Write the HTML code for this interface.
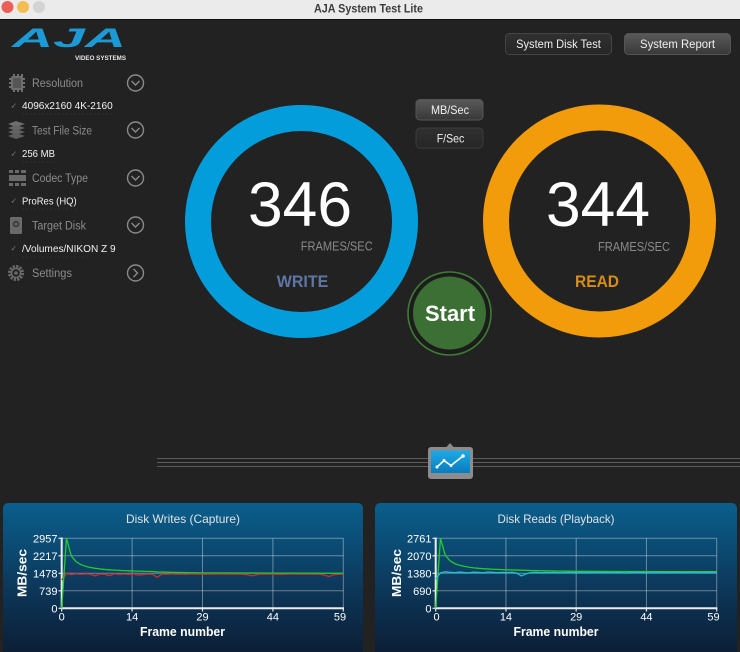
<!DOCTYPE html>
<html><head><meta charset="utf-8"><style>
html,body{margin:0;padding:0;background:#222;}
svg{display:block;}
text{font-family:"Liberation Sans",sans-serif;}
</style></head><body>
<svg width="740" height="652" viewBox="0 0 740 652" xmlns="http://www.w3.org/2000/svg">
<defs>
<linearGradient id="panel" x1="0" y1="0" x2="0" y2="1">
<stop offset="0" stop-color="#0a5f8d"/><stop offset="0.55" stop-color="#0c3658"/><stop offset="1" stop-color="#0c1a30"/>
</linearGradient>
<linearGradient id="btnL" x1="0" y1="0" x2="0" y2="1">
<stop offset="0" stop-color="#5a5a5a"/><stop offset="1" stop-color="#383838"/>
</linearGradient>
<linearGradient id="btnD" x1="0" y1="0" x2="0" y2="1">
<stop offset="0" stop-color="#303030"/><stop offset="1" stop-color="#262626"/>
</linearGradient>
<linearGradient id="ico" x1="0" y1="0" x2="0" y2="1">
<stop offset="0" stop-color="#1eaae6"/><stop offset="1" stop-color="#0a7cbd"/>
</linearGradient>
</defs>
<rect x="0" y="0" width="740" height="652" fill="#222"/>
<!-- title bar -->
<rect x="0" y="0" width="740" height="19" fill="#ebebeb"/>
<rect x="0" y="19" width="740" height="1" fill="#111"/>
<circle cx="7.5" cy="7" r="6" fill="#ed5f56"/>
<circle cx="23" cy="7" r="6" fill="#f3be4f"/>
<circle cx="39" cy="7" r="6" fill="#d3d3d3"/>
<text x="368.5" y="12.5" font-size="12" font-weight="bold" fill="#3c3c3c" text-anchor="middle" textLength="109" lengthAdjust="spacingAndGlyphs">AJA System Test Lite</text>

<!-- logo -->
<text x="12" y="47" font-size="27" font-weight="bold" font-style="italic" fill="#1b9ad6" textLength="114" lengthAdjust="spacingAndGlyphs">AJA</text>
<text x="75" y="60" font-size="6.5" font-weight="bold" fill="#e8e8e8" textLength="51" lengthAdjust="spacingAndGlyphs">VIDEO SYSTEMS</text>

<!-- sidebar icons -->
<g fill="#6e6e6e">
<rect x="11" y="76" width="12" height="14" rx="2"/>
<rect x="9" y="78" width="16" height="2"/><rect x="9" y="82" width="16" height="2"/><rect x="9" y="86" width="16" height="2"/>
<rect x="13" y="74" width="2" height="18"/><rect x="17" y="74" width="2" height="18"/><rect x="21" y="74" width="2" height="18"/>
</g>
<rect x="13" y="78" width="8" height="10" fill="#555"/>
<g fill="#6e6e6e">
<polygon points="8,124 16,121 25,124 16,127"/>
<polygon points="8,128 16,125 25,128 16,131" fill="#666"/>
<polygon points="8,132 16,129 25,132 16,135" fill="#626262"/>
<polygon points="8,136 16,133 25,136 16,139" fill="#5e5e5e"/>
</g>
<g fill="#6a6a6a">
<rect x="9" y="170" width="4" height="3"/><rect x="15" y="170" width="4" height="3"/><rect x="21" y="170" width="5" height="3"/>
<rect x="9" y="175" width="17" height="6"/>
<rect x="9" y="183" width="4" height="3"/><rect x="15" y="183" width="4" height="3"/><rect x="21" y="183" width="5" height="3"/>
</g>
<rect x="10" y="217" width="12" height="17" rx="1.5" fill="#6a6a6a"/>
<circle cx="16" cy="224" r="3.5" fill="#444"/><circle cx="16" cy="224" r="1" fill="#777"/>
<g transform="translate(16,273)">
<circle r="6.5" fill="none" stroke="#6a6a6a" stroke-width="3" stroke-dasharray="2.2 1.2"/>
<circle r="4.5" fill="none" stroke="#6a6a6a" stroke-width="1.5"/>
<circle r="1.8" fill="#6a6a6a"/>
</g>

<!-- sidebar labels -->
<g font-size="11.5" fill="#8c8c8c">
<text x="32" y="87" textLength="51" lengthAdjust="spacingAndGlyphs">Resolution</text>
<text x="32" y="134.5" textLength="60" lengthAdjust="spacingAndGlyphs">Test File Size</text>
<text x="32" y="182" textLength="56" lengthAdjust="spacingAndGlyphs">Codec Type</text>
<text x="32" y="229.5" textLength="54" lengthAdjust="spacingAndGlyphs">Target Disk</text>
<text x="32" y="277" textLength="40" lengthAdjust="spacingAndGlyphs">Settings</text>
</g>
<g font-size="8" fill="#777">
<text x="10.5" y="108.5">✓</text><text x="10.5" y="156.5">✓</text><text x="10.5" y="203.5">✓</text><text x="10.5" y="251">✓</text>
</g>
<g font-size="10.5" fill="#f2f2f2">
<text x="22" y="109" textLength="90.7" lengthAdjust="spacingAndGlyphs">4096x2160 4K-2160</text>
<text x="22" y="157" textLength="33" lengthAdjust="spacingAndGlyphs">256 MB</text>
<text x="22" y="204.5" textLength="54.7" lengthAdjust="spacingAndGlyphs">ProRes (HQ)</text>
<text x="22" y="252" textLength="93.6" lengthAdjust="spacingAndGlyphs">/Volumes/NIKON Z 9</text>
</g>
<g stroke="#2e2e2e" stroke-width="1" stroke-dasharray="2 2">
<line x1="22" y1="114" x2="112" y2="114"/><line x1="22" y1="162" x2="55" y2="162"/><line x1="22" y1="209" x2="76" y2="209"/><line x1="22" y1="257" x2="90" y2="257"/>
</g>
<!-- chevrons -->
<g fill="none" stroke="#8a8a8a" stroke-width="1.4">
<circle cx="135.5" cy="83" r="8"/><polyline points="131.5,81 135.5,85 139.5,81"/>
<circle cx="135.5" cy="130" r="8"/><polyline points="131.5,128 135.5,132 139.5,128"/>
<circle cx="135.5" cy="178" r="8"/><polyline points="131.5,176 135.5,180 139.5,176"/>
<circle cx="135.5" cy="225" r="8"/><polyline points="131.5,223 135.5,227 139.5,223"/>
<circle cx="135.5" cy="273" r="8"/><polyline points="133.5,269 137.5,273 133.5,277"/>
</g>

<!-- top buttons -->
<rect x="505.5" y="33.5" width="106" height="21" rx="4" fill="url(#btnD)" stroke="#444" stroke-width="1"/>
<text x="558.5" y="48" font-size="12" fill="#f0f0f0" text-anchor="middle" textLength="84.7" lengthAdjust="spacingAndGlyphs">System Disk Test</text>
<rect x="624.5" y="33.5" width="106" height="21" rx="4" fill="url(#btnL)" stroke="#555" stroke-width="1"/>
<text x="677.5" y="48" font-size="12" fill="#f0f0f0" text-anchor="middle" textLength="75" lengthAdjust="spacingAndGlyphs">System Report</text>
<rect x="416" y="99.5" width="67" height="20.5" rx="4" fill="url(#btnL)" stroke="#555" stroke-width="1"/>
<text x="450" y="114" font-size="12" fill="#f0f0f0" text-anchor="middle" textLength="38" lengthAdjust="spacingAndGlyphs">MB/Sec</text>
<rect x="416" y="128" width="67" height="20" rx="4" fill="url(#btnD)" stroke="#3c3c3c" stroke-width="1"/>
<text x="450.5" y="142.5" font-size="12" fill="#f0f0f0" text-anchor="middle" textLength="27.6" lengthAdjust="spacingAndGlyphs">F/Sec</text>

<!-- rings -->
<circle cx="301.5" cy="221.5" r="103.5" fill="none" stroke="#049ddc" stroke-width="26"/>
<circle cx="599.5" cy="221" r="103.5" fill="none" stroke="#f29b0b" stroke-width="26"/>
<text x="300" y="226" font-size="63" fill="#fff" text-anchor="middle" textLength="104" lengthAdjust="spacingAndGlyphs">346</text>
<text x="598" y="226" font-size="63" fill="#fff" text-anchor="middle" textLength="104" lengthAdjust="spacingAndGlyphs">344</text>
<text x="336.7" y="250.5" font-size="12.5" fill="#8a8a8a" text-anchor="middle" textLength="72" lengthAdjust="spacingAndGlyphs">FRAMES/SEC</text>
<text x="634" y="251" font-size="12.5" fill="#8a8a8a" text-anchor="middle" textLength="72" lengthAdjust="spacingAndGlyphs">FRAMES/SEC</text>
<text x="302.5" y="287" font-size="17" font-weight="bold" fill="#5e76a6" text-anchor="middle" textLength="51.5" lengthAdjust="spacingAndGlyphs">WRITE</text>
<text x="597" y="287" font-size="17" font-weight="bold" fill="#d88d16" text-anchor="middle" textLength="44" lengthAdjust="spacingAndGlyphs">READ</text>

<!-- start button -->
<circle cx="449.5" cy="313.5" r="41.5" fill="#1c1c1c" stroke="#3d7c32" stroke-width="1.6"/>
<circle cx="449.5" cy="313" r="36.5" fill="#3c6f33"/>
<text x="450" y="321" font-size="22" font-weight="bold" fill="#fff" text-anchor="middle" textLength="50" lengthAdjust="spacingAndGlyphs">Start</text>

<!-- slider lines + icon -->
<g stroke="#5c5c5c" stroke-width="1">
<line x1="157" y1="458.5" x2="740" y2="458.5"/><line x1="157" y1="462.5" x2="740" y2="462.5"/><line x1="157" y1="466.5" x2="740" y2="466.5"/>
</g>
<polygon points="446,447.5 450,443 454,447.5" fill="#8a8a8a"/>
<rect x="428" y="447" width="45" height="32" rx="3" fill="#8c8c8c"/>
<rect x="431" y="450.5" width="39" height="22.5" fill="url(#ico)"/>
<polyline points="437,467 444,460.5 451,465.5 463,456" fill="none" stroke="#fff" stroke-width="1.6"/>
<g fill="#fff"><circle cx="437" cy="467" r="1.5"/><circle cx="444" cy="460.5" r="1.5"/><circle cx="451" cy="465.5" r="1.5"/><circle cx="463" cy="456" r="1.8"/></g>

<!-- bottom panels -->
<rect x="3" y="503" width="360" height="160" rx="5" fill="url(#panel)"/>
<rect x="375" y="503" width="362" height="160" rx="5" fill="url(#panel)"/>

<!-- LEFT CHART -->
<text x="183" y="523" font-size="12" fill="#e2e2e2" text-anchor="middle" textLength="114" lengthAdjust="spacingAndGlyphs">Disk Writes (Capture)</text>
<g stroke="rgba(255,255,255,0.38)" stroke-width="1">
<line x1="61.7" y1="538.3" x2="343.3" y2="538.3"/><line x1="61.7" y1="555.8" x2="343.3" y2="555.8"/>
<line x1="61.7" y1="573.3" x2="343.3" y2="573.3"/><line x1="61.7" y1="590.8" x2="343.3" y2="590.8"/>
<line x1="132.1" y1="538.3" x2="132.1" y2="608.3"/><line x1="202.5" y1="538.3" x2="202.5" y2="608.3"/>
<line x1="272.9" y1="538.3" x2="272.9" y2="608.3"/><line x1="343.3" y1="538.3" x2="343.3" y2="608.3"/>
</g>
<g stroke="#e6e6e6" stroke-width="1.2">
<line x1="58.5" y1="538.3" x2="61.7" y2="538.3"/><line x1="58.5" y1="555.8" x2="61.7" y2="555.8"/><line x1="58.5" y1="573.3" x2="61.7" y2="573.3"/><line x1="58.5" y1="590.8" x2="61.7" y2="590.8"/><line x1="58.5" y1="608.3" x2="61.7" y2="608.3"/>
<line x1="61.7" y1="608.3" x2="61.7" y2="611.5"/><line x1="132.1" y1="608.3" x2="132.1" y2="611.5"/><line x1="202.5" y1="608.3" x2="202.5" y2="611.5"/><line x1="272.9" y1="608.3" x2="272.9" y2="611.5"/><line x1="343.3" y1="608.3" x2="343.3" y2="611.5"/>
</g>
<polyline points="61.7,537.5 61.7,608.3 344,608.3" fill="none" stroke="#ececec" stroke-width="2"/>
<g font-size="11" fill="#fff" text-anchor="end">
<text x="57.5" y="542.3">2957</text><text x="57.5" y="559.8">2217</text><text x="57.5" y="577.3">1478</text><text x="57.5" y="594.8">739</text><text x="57.5" y="612.3">0</text>
</g>
<g font-size="11" fill="#fff" text-anchor="middle">
<text x="61.7" y="620.5">0</text><text x="132.1" y="620.5">14</text><text x="202.5" y="620.5">29</text><text x="272.9" y="620.5">44</text><text x="340" y="620.5">59</text>
</g>
<text transform="translate(26.5,573) rotate(-90)" font-size="13" font-weight="bold" fill="#fff" text-anchor="middle" textLength="48" lengthAdjust="spacingAndGlyphs">MB/sec</text>
<text x="182.5" y="636" font-size="12.5" font-weight="bold" fill="#fff" text-anchor="middle" textLength="85" lengthAdjust="spacingAndGlyphs">Frame number</text>
<g transform="translate(61.7,608.3) scale(4.7729,-0.023673)" fill="none" stroke-width="1.3">
<polyline vector-effect="non-scaling-stroke" stroke="#d42a2a" points="0,1195 1,1470 2,1430 3,1460 4,1440 5,1455 6,1445 7,1370 8,1450 9,1440 10,1380 11,1460 12,1435 13,1450 14,1430 15,1455 16,1410 17,1425 18,1450 19,1440 20,1310 21,1450 22,1440 23,1455 24,1445 25,1450 26,1440 27,1455 28,1445 29,1450 30,1440 31,1450 32,1445 33,1455 34,1440 35,1450 36,1445 37,1450 38,1440 39,1420 40,1370 41,1430 42,1450 43,1445 44,1450 45,1440 46,1430 47,1450 48,1445 49,1455 50,1440 51,1450 52,1445 53,1450 54,1440 55,1410 56,1340 57,1420 58,1440 59,1450"/>
<polyline vector-effect="non-scaling-stroke" stroke="#22cc2a" points="0,0 1,2957 2,2217 3,1971 4,1848 5,1774 6,1724 7,1689 8,1663 9,1642 10,1626 11,1612 12,1601 13,1592 14,1584 15,1577 16,1570 17,1565 18,1560 19,1556 20,1540 22,1525 25,1510 30,1498 40,1490 50,1485 59,1482"/>
</g>

<!-- RIGHT CHART -->
<text x="556" y="523" font-size="12" fill="#e2e2e2" text-anchor="middle" textLength="117" lengthAdjust="spacingAndGlyphs">Disk Reads (Playback)</text>
<g stroke="rgba(255,255,255,0.38)" stroke-width="1">
<line x1="435.7" y1="538.3" x2="716.7" y2="538.3"/><line x1="435.7" y1="555.8" x2="716.7" y2="555.8"/>
<line x1="435.7" y1="573.3" x2="716.7" y2="573.3"/><line x1="435.7" y1="590.8" x2="716.7" y2="590.8"/>
<line x1="505.95" y1="538.3" x2="505.95" y2="608.3"/><line x1="576.2" y1="538.3" x2="576.2" y2="608.3"/>
<line x1="646.45" y1="538.3" x2="646.45" y2="608.3"/><line x1="716.7" y1="538.3" x2="716.7" y2="608.3"/>
</g>
<g stroke="#e6e6e6" stroke-width="1.2">
<line x1="432.5" y1="538.3" x2="435.7" y2="538.3"/><line x1="432.5" y1="555.8" x2="435.7" y2="555.8"/><line x1="432.5" y1="573.3" x2="435.7" y2="573.3"/><line x1="432.5" y1="590.8" x2="435.7" y2="590.8"/><line x1="432.5" y1="608.3" x2="435.7" y2="608.3"/>
<line x1="435.7" y1="608.3" x2="435.7" y2="611.5"/><line x1="505.95" y1="608.3" x2="505.95" y2="611.5"/><line x1="576.2" y1="608.3" x2="576.2" y2="611.5"/><line x1="646.45" y1="608.3" x2="646.45" y2="611.5"/><line x1="716.7" y1="608.3" x2="716.7" y2="611.5"/>
</g>
<polyline points="435.7,537.5 435.7,608.3 717.4,608.3" fill="none" stroke="#ececec" stroke-width="2"/>
<g font-size="11" fill="#fff" text-anchor="end">
<text x="431.5" y="542.3">2761</text><text x="431.5" y="559.8">2070</text><text x="431.5" y="577.3">1380</text><text x="431.5" y="594.8">690</text><text x="431.5" y="612.3">0</text>
</g>
<g font-size="11" fill="#fff" text-anchor="middle">
<text x="436.5" y="620.5">0</text><text x="505.95" y="620.5">14</text><text x="576.2" y="620.5">29</text><text x="646.45" y="620.5">44</text><text x="713.5" y="620.5">59</text>
</g>
<text transform="translate(401,573) rotate(-90)" font-size="13" font-weight="bold" fill="#fff" text-anchor="middle" textLength="48" lengthAdjust="spacingAndGlyphs">MB/sec</text>
<text x="556" y="636" font-size="12.5" font-weight="bold" fill="#fff" text-anchor="middle" textLength="85" lengthAdjust="spacingAndGlyphs">Frame number</text>
<g transform="translate(435.7,608.3) scale(4.7627,-0.025353)" fill="none" stroke-width="1.3">
<polyline vector-effect="non-scaling-stroke" stroke="#22cc2a" points="0,0 1,2761 2,2095 3,1874 4,1763 5,1696 6,1652 7,1620 8,1596 9,1578 10,1563 12,1541 14,1525 16,1513 18,1504 20,1490 25,1470 30,1458 40,1450 50,1446 59,1444"/>
<polyline vector-effect="non-scaling-stroke" stroke="#1fc0d2" points="0,1150 1,1400 2,1440 3,1420 4,1405 5,1430 6,1410 7,1400 8,1425 9,1415 10,1400 11,1430 12,1420 13,1405 14,1415 15,1410 16,1420 17,1390 18,1280 19,1360 20,1410 21,1420 22,1405 23,1415 24,1410 25,1418 26,1405 27,1412 28,1420 29,1408 30,1415 31,1405 32,1412 33,1418 34,1406 35,1414 36,1410 37,1402 38,1415 39,1408 40,1395 41,1415 42,1420 43,1410 44,1405 45,1415 46,1410 47,1418 48,1405 49,1412 50,1410 51,1416 52,1404 53,1410 54,1418 55,1408 56,1412 57,1405 58,1414 59,1410"/>
</g>
</svg>
</body></html>
